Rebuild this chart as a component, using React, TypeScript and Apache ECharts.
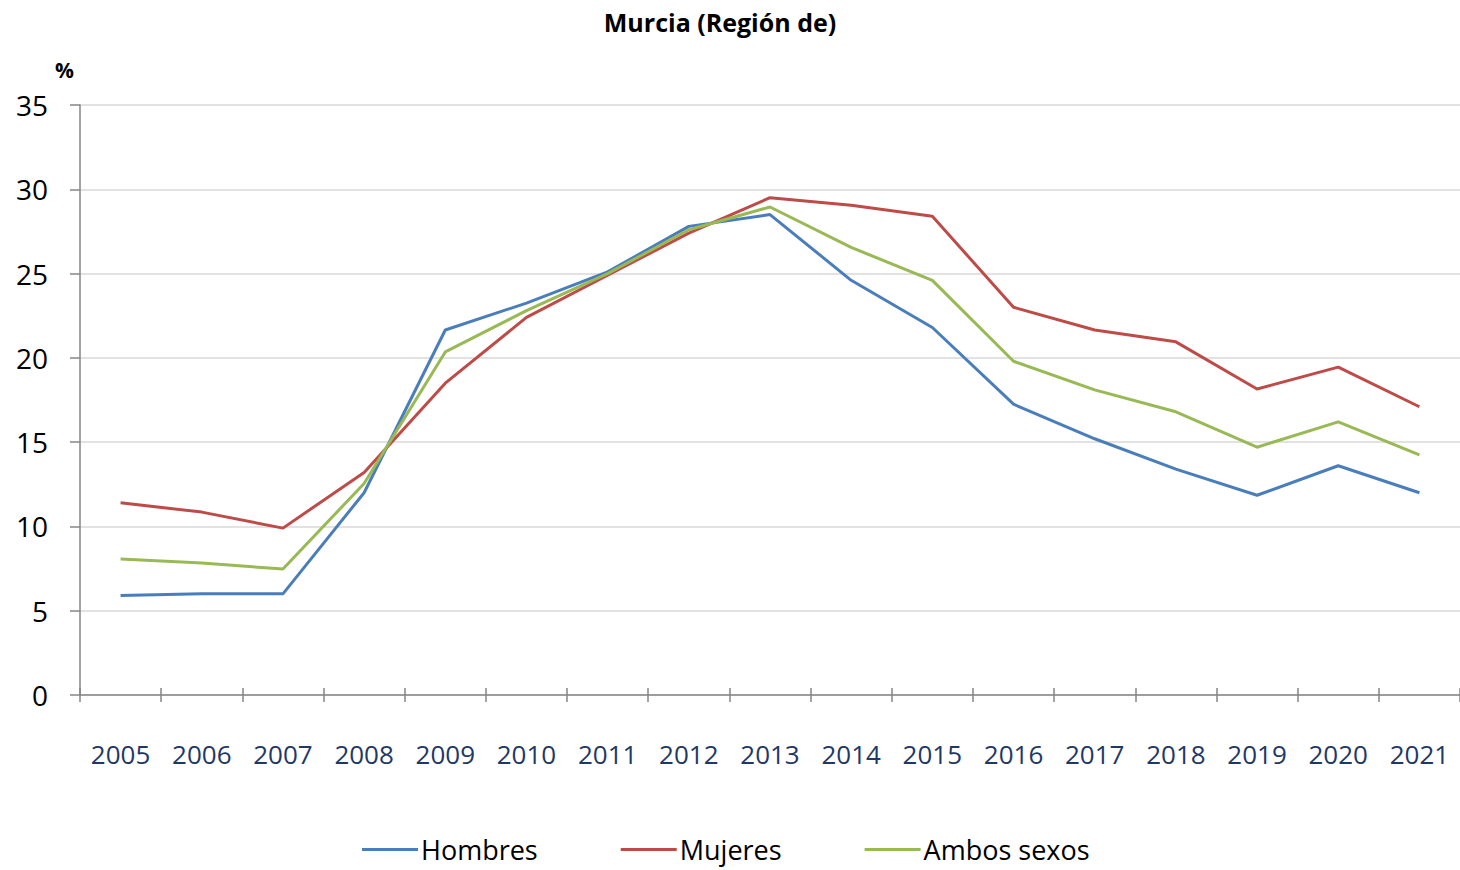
import React, { useEffect, useRef } from "react";
import * as echarts from "echarts";

const years = ["2005","2006","2007","2008","2009","2010","2011","2012","2013","2014","2015","2016","2017","2018","2019","2020","2021"];
const hombres = [5.9, 6.0, 6.0, 12.0, 21.65, 23.25, 25.1, 27.8, 28.5, 24.6, 21.8, 17.25, 15.2, 13.4, 11.85, 13.6, 12.0];
const mujeres = [11.4, 10.85, 9.9, 13.2, 18.5, 22.4, 24.9, 27.4, 29.5, 29.05, 28.4, 23.0, 21.65, 20.95, 18.15, 19.45, 17.1];
const ambos = [8.07, 7.83, 7.47, 12.55, 20.35, 22.8, 25.0, 27.6, 28.95, 26.55, 24.6, 19.8, 18.1, 16.8, 14.7, 16.2, 14.25];

const FONT = "Open Sans";

export default function App() {
  const ref = useRef<HTMLDivElement>(null);
  useEffect(() => {
    const chart = echarts.init(ref.current!, null, { renderer: "svg" });
    chart.setOption({
      animation: false,
      backgroundColor: "#ffffff",
      title: {
        text: "Murcia (Región de)",
        left: 715,
        textAlign: "center",
        top: 4,
        textStyle: { fontFamily: FONT, fontSize: 25, fontWeight: "bold", color: "#000" },
      },
      graphic: [
        {
          type: "text",
          left: 55,
          top: 59,
          style: { text: "%", fontFamily: FONT, fontSize: 21, fontWeight: "bold", fill: "#000" },
        },
      ],
      legend: {
        left: 357,
        top: 831,
        itemGap: 83,
        itemWidth: 56,
        itemHeight: 3,
        icon: "rect",
        textStyle: { fontFamily: FONT, fontSize: 27, lineHeight: 27, color: "#000", padding: [0, 0, 0, -2] },
        data: ["Hombres", "Mujeres", "Ambos sexos"],
      },
      grid: { left: 80, top: 105, right: -4, height: 590, containLabel: false },
      xAxis: [
        {
          type: "category",
          data: years,
          boundaryGap: true,
          axisLine: { lineStyle: { color: "#868686", width: 1.5 } },
          axisTick: { show: true, length: 7, lineStyle: { color: "#868686", width: 1.5 } },
          axisLabel: { fontFamily: FONT, fontSize: 26, color: "#1F3864", margin: 46 },
          splitLine: { show: false },
        },
        {
          type: "category",
          data: years,
          position: "bottom",
          boundaryGap: true,
          axisLine: { show: false },
          axisTick: { show: true, inside: true, length: 7, lineStyle: { color: "#868686", width: 1.5 } },
          axisLabel: { show: false },
          splitLine: { show: false },
        },
      ],
      yAxis: {
        type: "value",
        min: 0,
        max: 35,
        interval: 5,
        axisLine: { show: true, lineStyle: { color: "#868686", width: 1.5 } },
        axisTick: { show: true, length: 10, lineStyle: { color: "#868686", width: 1.5 } },
        axisLabel: { fontFamily: FONT, fontSize: 28, color: "#000", margin: 32 },
        splitLine: { show: true, lineStyle: { color: "#D9D9D9", width: 1.5 } },
      },
      series: [
        { name: "Hombres", type: "line", data: hombres, symbol: "none", lineStyle: { color: "#4A7EBB", width: 3 }, itemStyle: { color: "#4A7EBB" } },
        { name: "Mujeres", type: "line", data: mujeres, symbol: "none", lineStyle: { color: "#BE4B48", width: 3 }, itemStyle: { color: "#BE4B48" } },
        { name: "Ambos sexos", type: "line", data: ambos, symbol: "none", lineStyle: { color: "#98B954", width: 3 }, itemStyle: { color: "#98B954" } },
      ],
    });
    return () => chart.dispose();
  }, []);
  return <div ref={ref} style={{ position: "absolute", left: 0, top: 0, width: 1460, height: 870 }} />;
}
